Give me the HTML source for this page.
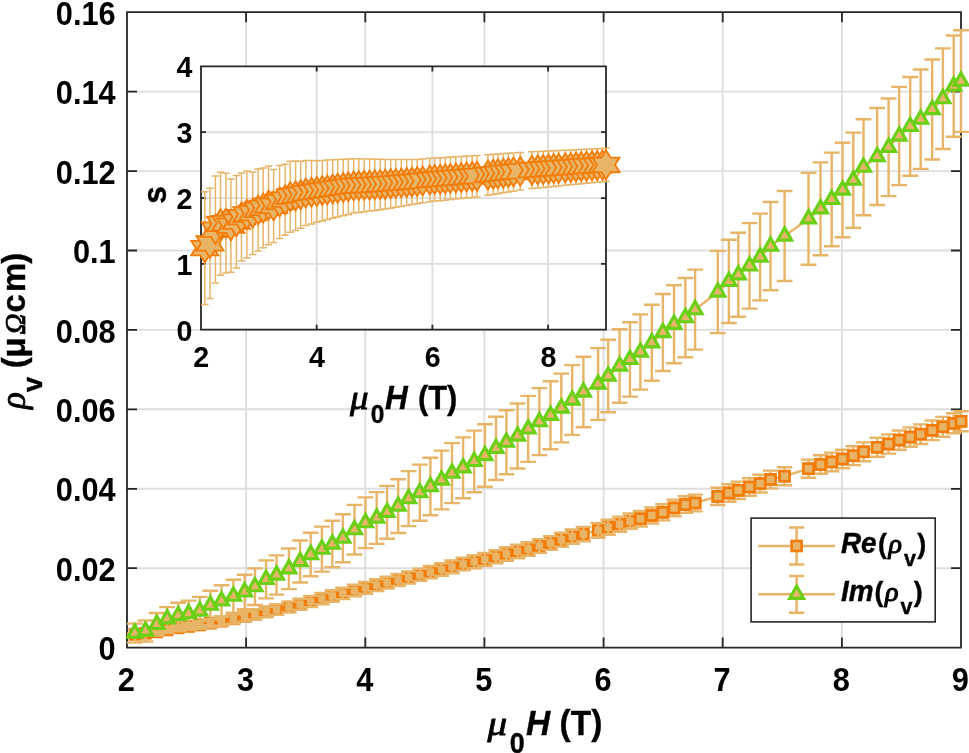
<!DOCTYPE html>
<html lang="en"><head><meta charset="utf-8"><title>Vortex resistivity vs field</title>
<style>html,body{margin:0;padding:0;background:#fff}svg{display:block}text{font-family:"Liberation Sans",Arial,Helvetica,sans-serif;font-weight:bold;fill:#000000}.tk{font-size:30px}.lb{font-size:33px}.lg{font-size:26.5px}.gk{font-family:"Liberation Serif","DejaVu Serif",serif;font-style:italic;font-weight:normal;stroke:#000;stroke-width:0.8px}.it{font-style:italic}</style></head><body>
<svg width="969" height="753" viewBox="0 0 969 753">
<rect width="969" height="753" fill="#fff"/>
<defs>
<rect id="sq" x="-5.00" y="-5.00" width="10.00" height="10.00" fill="#e8b467" stroke="#f37c08" stroke-width="2.6"/>
<path id="tr" d="M0,-8.20L7.00,4.10L-7.00,4.10Z" fill="#e8b467" stroke="#69d016" stroke-width="3.1" stroke-linejoin="miter"/>
<path id="st" d="M0.00,-14.50L-4.53,-7.25L-13.59,-7.25L-9.06,-0.00L-13.59,7.25L-4.53,7.25L-0.00,14.50L4.53,7.25L13.59,7.25L9.06,0.00L13.59,-7.25L4.53,-7.25Z" fill="#e8b467" stroke="#f37c08" stroke-width="1.8" stroke-linejoin="miter"/>
<clipPath id="cm"><rect x="127.0" y="12.2" width="834.0" height="635.4"/></clipPath>
</defs>
<path d="M246.1,12.2V647.6M365.3,12.2V647.6M484.4,12.2V647.6M603.6,12.2V647.6M722.7,12.2V647.6M841.9,12.2V647.6M127.0,568.2H961.0M127.0,488.8H961.0M127.0,409.3H961.0M127.0,329.9H961.0M127.0,250.5H961.0M127.0,171.1H961.0M127.0,91.6H961.0" stroke="#dedede" stroke-width="1.9" fill="none"/>
<path d="M127.0,12.2H961.0V647.6H127.0ZM127.0,647.6v-10M127.0,12.2v10M246.1,647.6v-10M246.1,12.2v10M365.3,647.6v-10M365.3,12.2v10M484.4,647.6v-10M484.4,12.2v10M603.6,647.6v-10M603.6,12.2v10M722.7,647.6v-10M722.7,12.2v10M841.9,647.6v-10M841.9,12.2v10M961.0,647.6v-10M961.0,12.2v10M127.0,647.6h10M961.0,647.6h-10M127.0,568.2h10M961.0,568.2h-10M127.0,488.8h10M961.0,488.8h-10M127.0,409.3h10M961.0,409.3h-10M127.0,329.9h10M961.0,329.9h-10M127.0,250.5h10M961.0,250.5h-10M127.0,171.1h10M961.0,171.1h-10M127.0,91.6h10M961.0,91.6h-10M127.0,12.2h10M961.0,12.2h-10" stroke="#262626" stroke-width="1.8" fill="none" stroke-linejoin="miter"/>
<g>
<path d="M134.9,634.5L145.5,633.3L156.7,632L167.1,630L178.2,627.9L188.6,626.5L199.8,625L210.4,623.2L221.5,621.3L233.4,618.9L244.6,616.6L255,614.3L266.1,611.9L276.5,609.7L288.9,607L300.1,604.2L310.7,601.5L321.9,598.6L332.3,596L342.9,593.4L354.5,590.5L365.5,587.9L376.7,585.2L387.1,582.7L398.2,580L408.6,577.5L419.8,574.8L430.4,572.2L441.5,569.5L452,566.8L463.1,564L474.2,561.7L484.9,559.5L496,556.7L506.4,554L517.6,551.4L528.2,549L539.4,546L550.5,543L561.3,539.8L572.2,536.6L583.4,534.1L598.1,530.4L608.2,527.2L619.6,524.2L630,521.2L640.4,518.8L651.8,515.5L662.9,512.3L674,508L685.4,504.6L695.1,503L717.8,496.4L728.9,493L738.3,490.3L749.5,487L760.1,483.6L770.5,479.5L784.6,476.2L808.5,468.7L820.5,464.5L831.7,461.9L842.5,459L853.3,455.7L863.5,451.8L877.2,447.3L888.6,444L899.2,440.1L910.2,437.1L920.7,434.2L932.2,430.3L942.9,426.8L953.7,423.3L961,421.3" stroke="#e8b467" stroke-width="2.4" fill="none" stroke-linejoin="round"/>
<use href="#sq" x="134.9" y="634.5"/><use href="#sq" x="145.5" y="633.3"/><use href="#sq" x="156.7" y="632"/><use href="#sq" x="167.1" y="630"/><use href="#sq" x="178.2" y="627.9"/><use href="#sq" x="188.6" y="626.5"/><use href="#sq" x="199.8" y="625"/><use href="#sq" x="210.4" y="623.2"/><use href="#sq" x="221.5" y="621.3"/><use href="#sq" x="233.4" y="618.9"/><use href="#sq" x="244.6" y="616.6"/><use href="#sq" x="255" y="614.3"/><use href="#sq" x="266.1" y="611.9"/><use href="#sq" x="276.5" y="609.7"/><use href="#sq" x="288.9" y="607"/><use href="#sq" x="300.1" y="604.2"/><use href="#sq" x="310.7" y="601.5"/><use href="#sq" x="321.9" y="598.6"/><use href="#sq" x="332.3" y="596"/><use href="#sq" x="342.9" y="593.4"/><use href="#sq" x="354.5" y="590.5"/><use href="#sq" x="365.5" y="587.9"/><use href="#sq" x="376.7" y="585.2"/><use href="#sq" x="387.1" y="582.7"/><use href="#sq" x="398.2" y="580"/><use href="#sq" x="408.6" y="577.5"/><use href="#sq" x="419.8" y="574.8"/><use href="#sq" x="430.4" y="572.2"/><use href="#sq" x="441.5" y="569.5"/><use href="#sq" x="452" y="566.8"/><use href="#sq" x="463.1" y="564"/><use href="#sq" x="474.2" y="561.7"/><use href="#sq" x="484.9" y="559.5"/><use href="#sq" x="496" y="556.7"/><use href="#sq" x="506.4" y="554"/><use href="#sq" x="517.6" y="551.4"/><use href="#sq" x="528.2" y="549"/><use href="#sq" x="539.4" y="546"/><use href="#sq" x="550.5" y="543"/><use href="#sq" x="561.3" y="539.8"/><use href="#sq" x="572.2" y="536.6"/><use href="#sq" x="583.4" y="534.1"/><use href="#sq" x="598.1" y="530.4"/><use href="#sq" x="608.2" y="527.2"/><use href="#sq" x="619.6" y="524.2"/><use href="#sq" x="630" y="521.2"/><use href="#sq" x="640.4" y="518.8"/><use href="#sq" x="651.8" y="515.5"/><use href="#sq" x="662.9" y="512.3"/><use href="#sq" x="674" y="508"/><use href="#sq" x="685.4" y="504.6"/><use href="#sq" x="695.1" y="503"/><use href="#sq" x="717.8" y="496.4"/><use href="#sq" x="728.9" y="493"/><use href="#sq" x="738.3" y="490.3"/><use href="#sq" x="749.5" y="487"/><use href="#sq" x="760.1" y="483.6"/><use href="#sq" x="770.5" y="479.5"/><use href="#sq" x="784.6" y="476.2"/><use href="#sq" x="808.5" y="468.7"/><use href="#sq" x="820.5" y="464.5"/><use href="#sq" x="831.7" y="461.9"/><use href="#sq" x="842.5" y="459"/><use href="#sq" x="853.3" y="455.7"/><use href="#sq" x="863.5" y="451.8"/><use href="#sq" x="877.2" y="447.3"/><use href="#sq" x="888.6" y="444"/><use href="#sq" x="899.2" y="440.1"/><use href="#sq" x="910.2" y="437.1"/><use href="#sq" x="920.7" y="434.2"/><use href="#sq" x="932.2" y="430.3"/><use href="#sq" x="942.9" y="426.8"/><use href="#sq" x="953.7" y="423.3"/><use href="#sq" x="961" y="421.3"/>
<path d="M134.9,633.2V635.8M127.2,633.2H142.6M127.2,635.8H142.6M145.5,631.5V635.1M137.8,631.5H153.2M137.8,635.1H153.2M156.7,629.6V634.4M149,629.6H164.4M149,634.4H164.4M167.1,627V633M159.4,627H174.8M159.4,633H174.8M178.2,624.6V631.2M170.5,624.6H185.9M170.5,631.2H185.9M188.6,622.9V630.1M180.9,622.9H196.3M180.9,630.1H196.3M199.8,621.1V628.9M192.1,621.1H207.5M192.1,628.9H207.5M210.4,619.1V627.3M202.7,619.1H218.1M202.7,627.3H218.1M221.5,616.9V625.7M213.8,616.9H229.2M213.8,625.7H229.2M233.4,614.2V623.6M225.7,614.2H241.1M225.7,623.6H241.1M244.6,611.6V621.6M236.9,611.6H252.3M236.9,621.6H252.3M255,609.2V619.4M247.3,609.2H262.7M247.3,619.4H262.7M266.1,606.7V617.1M258.4,606.7H273.8M258.4,617.1H273.8M276.5,604.4V614.9M268.8,604.4H284.2M268.8,614.9H284.2M288.9,601.6V612.4M281.2,601.6H296.6M281.2,612.4H296.6M300.1,598.7V609.7M292.4,598.7H307.8M292.4,609.7H307.8M310.7,595.9V607.1M303,595.9H318.4M303,607.1H318.4M321.9,593V604.3M314.2,593H329.6M314.2,604.3H329.6M332.3,590.3V601.7M324.6,590.3H340M324.6,601.7H340M342.9,587.7V599.1M335.2,587.7H350.6M335.2,599.1H350.6M354.5,584.7V596.3M346.8,584.7H362.2M346.8,596.3H362.2M365.5,582V593.7M357.8,582H373.2M357.8,593.7H373.2M376.7,579.3V591.1M369,579.3H384.4M369,591.1H384.4M387.1,576.7V588.6M379.4,576.7H394.8M379.4,588.6H394.8M398.2,574V586M390.5,574H405.9M390.5,586H405.9M408.6,571.4V583.6M400.9,571.4H416.3M400.9,583.6H416.3M419.8,568.7V580.9M412.1,568.7H427.5M412.1,580.9H427.5M430.4,566V578.4M422.7,566H438.1M422.7,578.4H438.1M441.5,563.2V575.8M433.8,563.2H449.2M433.8,575.8H449.2M452,560.5V573.2M444.3,560.5H459.7M444.3,573.2H459.7M463.1,557.6V570.4M455.4,557.6H470.8M455.4,570.4H470.8M474.2,555.2V568.2M466.5,555.2H481.9M466.5,568.2H481.9M484.9,553V566M477.2,553H492.6M477.2,566H492.6M496,550.1V563.3M488.3,550.1H503.7M488.3,563.3H503.7M506.4,547.3V560.7M498.7,547.3H514.1M498.7,560.7H514.1M517.6,544.7V558.2M509.9,544.7H525.3M509.9,558.2H525.3M528.2,542.2V555.8M520.5,542.2H535.9M520.5,555.8H535.9M539.4,539.1V552.9M531.7,539.1H547.1M531.7,552.9H547.1M550.5,536.1V549.9M542.8,536.1H558.2M542.8,549.9H558.2M561.3,532.8V546.8M553.6,532.8H569M553.6,546.8H569M572.2,529.5V543.7M564.5,529.5H579.9M564.5,543.7H579.9M583.4,526.9V541.3M575.7,526.9H591.1M575.7,541.3H591.1M598.1,523V537.8M590.4,523H605.8M590.4,537.8H605.8M608.2,519.7V534.7M600.5,519.7H615.9M600.5,534.7H615.9M619.6,516.6V531.8M611.9,516.6H627.3M611.9,531.8H627.3M630,513.5V528.9M622.3,513.5H637.7M622.3,528.9H637.7M640.4,511V526.6M632.7,511H648.1M632.7,526.6H648.1M651.8,507.5V523.5M644.1,507.5H659.5M644.1,523.5H659.5M662.9,504.2V520.4M655.2,504.2H670.6M655.2,520.4H670.6M674,499.8V516.2M666.3,499.8H681.7M666.3,516.2H681.7M685.4,496.3V512.9M677.7,496.3H693.1M677.7,512.9H693.1M695.1,494.6V511.4M687.4,494.6H702.8M687.4,511.4H702.8M717.8,487.8V505M710.1,487.8H725.5M710.1,505H725.5M728.9,484.3V501.7M721.2,484.3H736.6M721.2,501.7H736.6M738.3,481.6V499M730.6,481.6H746M730.6,499H746M749.5,478.2V495.8M741.8,478.2H757.2M741.8,495.8H757.2M760.1,474.7V492.5M752.4,474.7H767.8M752.4,492.5H767.8M770.5,470.6V488.4M762.8,470.6H778.2M762.8,488.4H778.2M784.6,467.2V485.2M776.9,467.2H792.3M776.9,485.2H792.3M808.5,459.6V477.8M800.8,459.6H816.2M800.8,477.8H816.2M820.5,455.3V473.7M812.8,455.3H828.2M812.8,473.7H828.2M831.7,452.6V471.2M824,452.6H839.4M824,471.2H839.4M842.5,449.7V468.3M834.8,449.7H850.2M834.8,468.3H850.2M853.3,446.3V465.1M845.6,446.3H861M845.6,465.1H861M863.5,442.4V461.2M855.8,442.4H871.2M855.8,461.2H871.2M877.2,437.8V456.8M869.5,437.8H884.9M869.5,456.8H884.9M888.6,434.4V453.6M880.9,434.4H896.3M880.9,453.6H896.3M899.2,430.5V449.7M891.5,430.5H906.9M891.5,449.7H906.9M910.2,427.4V446.8M902.5,427.4H917.9M902.5,446.8H917.9M920.7,424.4V444M913,424.4H928.4M913,444H928.4M932.2,420.5V440.1M924.5,420.5H939.9M924.5,440.1H939.9M942.9,416.9V436.7M935.2,416.9H950.6M935.2,436.7H950.6M953.7,413.3V433.3M946,413.3H961.4M946,433.3H961.4M961,411.3V431.3M953.3,411.3H968.7M953.3,431.3H968.7" stroke="#e8b467" stroke-width="2.4" fill="none"/>
<use href="#sq" x="640.4" y="518.8"/><use href="#sq" x="651.8" y="515.5"/><use href="#sq" x="662.9" y="512.3"/><use href="#sq" x="674" y="508"/><use href="#sq" x="685.4" y="504.6"/><use href="#sq" x="695.1" y="503"/><use href="#sq" x="717.8" y="496.4"/><use href="#sq" x="728.9" y="493"/><use href="#sq" x="738.3" y="490.3"/><use href="#sq" x="749.5" y="487"/><use href="#sq" x="760.1" y="483.6"/><use href="#sq" x="770.5" y="479.5"/><use href="#sq" x="784.6" y="476.2"/><use href="#sq" x="808.5" y="468.7"/><use href="#sq" x="820.5" y="464.5"/><use href="#sq" x="831.7" y="461.9"/><use href="#sq" x="842.5" y="459"/><use href="#sq" x="853.3" y="455.7"/><use href="#sq" x="863.5" y="451.8"/><use href="#sq" x="877.2" y="447.3"/><use href="#sq" x="888.6" y="444"/><use href="#sq" x="899.2" y="440.1"/><use href="#sq" x="910.2" y="437.1"/><use href="#sq" x="920.7" y="434.2"/><use href="#sq" x="932.2" y="430.3"/><use href="#sq" x="942.9" y="426.8"/><use href="#sq" x="953.7" y="423.3"/><use href="#sq" x="961" y="421.3"/>
</g>
<g>
<path d="M134.9,633.1L145.5,631L156.7,624.3L167.1,618.8L178.2,615.5L188.6,613.7L199.8,611L210.4,605.2L221.5,600.8L233.4,596.2L244.6,591.9L255,586.7L266.1,579.4L276.5,575L288.9,568.8L300.1,561.5L310.7,554.5L321.9,549.1L332.3,544L342.9,538.2L354.5,529.7L365.5,522.7L376.7,518L387.1,512.3L398.2,506.1L408.6,498.6L419.8,492.7L430.4,486.5L441.5,480L452,473.1L463.1,467.8L474.2,461.4L484.9,455.5L496,448.4L506.4,442.2L517.6,436L528.2,428.9L539.4,421.6L550.5,415.3L561.3,408L572.2,400L583.4,392L598.1,384L608.2,376L619.6,366L630,359.4L640.4,352L651.8,342.8L662.9,332.5L674,324.3L685.4,317.6L695.1,309.6L717.8,292L728.9,281.4L738.3,274.8L749.5,265.9L760.1,257L770.5,246.1L784.6,236L808.5,218.8L820.5,208.8L831.7,199.4L842.5,190L853.3,180.2L863.5,167.2L877.2,156.5L888.6,147.3L899.2,136L910.2,126.4L920.7,119.2L932.2,109.5L942.9,98.7L953.7,86.1L961,81.1" stroke="#e8b467" stroke-width="2.4" fill="none" stroke-linejoin="round"/>
<path d="M134.9,623.6V642.6M127,623.6H142.8M127,642.6H142.8M145.5,620.5V641.5M137.6,620.5H153.4M137.6,641.5H153.4M156.7,613V635.6M148.8,613H164.6M148.8,635.6H164.6M167.1,607.1V630.5M159.2,607.1H175M159.2,630.5H175M178.2,602.8V628.2M170.3,602.8H186.1M170.3,628.2H186.1M188.6,600.6V626.8M180.7,600.6H196.5M180.7,626.8H196.5M199.8,596.9V625.1M191.9,596.9H207.7M191.9,625.1H207.7M210.4,590.8V619.6M202.5,590.8H218.3M202.5,619.6H218.3M221.5,585.3V616.3M213.6,585.3H229.4M213.6,616.3H229.4M233.4,579.8V612.6M225.5,579.8H241.3M225.5,612.6H241.3M244.6,574.7V609.1M236.7,574.7H252.5M236.7,609.1H252.5M255,568.4V605M247.1,568.4H262.9M247.1,605H262.9M266.1,560.4V598.4M258.2,560.4H274M258.2,598.4H274M276.5,555.4V594.6M268.6,555.4H284.4M268.6,594.6H284.4M288.9,548.5V589.1M281,548.5H296.8M281,589.1H296.8M300.1,540.5V582.5M292.2,540.5H308M292.2,582.5H308M310.7,532.7V576.3M302.8,532.7H318.6M302.8,576.3H318.6M321.9,526.6V571.6M314,526.6H329.8M314,571.6H329.8M332.3,520.7V567.3M324.4,520.7H340.2M324.4,567.3H340.2M342.9,514.2V562.2M335,514.2H350.8M335,562.2H350.8M354.5,504.9V554.5M346.6,504.9H362.4M346.6,554.5H362.4M365.5,497.4V548.1M357.6,497.4H373.4M357.6,548.1H373.4M376.7,492.1V543.9M368.8,492.1H384.6M368.8,543.9H384.6M387.1,485.9V538.7M379.2,485.9H395M379.2,538.7H395M398.2,479.2V533M390.3,479.2H406.1M390.3,533H406.1M408.6,471.1V526.1M400.7,471.1H416.5M400.7,526.1H416.5M419.8,464.6V520.8M411.9,464.6H427.7M411.9,520.8H427.7M430.4,457.7V515.3M422.5,457.7H438.3M422.5,515.3H438.3M441.5,450.6V509.4M433.6,450.6H449.4M433.6,509.4H449.4M452,443.1V503.1M444.1,443.1H459.9M444.1,503.1H459.9M463.1,437.4V498.2M455.2,437.4H471M455.2,498.2H471M474.2,430.6V492.2M466.3,430.6H482.1M466.3,492.2H482.1M484.9,424.3V486.7M477,424.3H492.8M477,486.7H492.8M496,416.8V480M488.1,416.8H503.9M488.1,480H503.9M506.4,410.2V474.2M498.5,410.2H514.3M498.5,474.2H514.3M517.6,403.5V468.5M509.7,403.5H525.5M509.7,468.5H525.5M528.2,395.9V461.9M520.3,395.9H536.1M520.3,461.9H536.1M539.4,388.1V455.1M531.5,388.1H547.3M531.5,455.1H547.3M550.5,381.3V449.3M542.6,381.3H558.4M542.6,449.3H558.4M561.3,373.6V442.4M553.4,373.6H569.2M553.4,442.4H569.2M572.2,365.1V434.9M564.3,365.1H580.1M564.3,434.9H580.1M583.4,356.7V427.3M575.5,356.7H591.3M575.5,427.3H591.3M598.1,348.1V419.9M590.2,348.1H606M590.2,419.9H606M608.2,339.7V412.3M600.3,339.7H616.1M600.3,412.3H616.1M619.6,329.2V402.8M611.7,329.2H627.5M611.7,402.8H627.5M630,322.2V396.6M622.1,322.2H637.9M622.1,396.6H637.9M640.4,314.4V389.6M632.5,314.4H648.3M632.5,389.6H648.3M651.8,304.8V380.8M643.9,304.8H659.7M643.9,380.8H659.7M662.9,294V371M655,294H670.8M655,371H670.8M674,285.3V363.3M666.1,285.3H681.9M666.1,363.3H681.9M685.4,278V357.2M677.5,278H693.3M677.5,357.2H693.3M695.1,269.6V349.6M687.2,269.6H703M687.2,349.6H703M717.8,250.9V333.1M709.9,250.9H725.7M709.9,333.1H725.7M728.9,239.8V323M721,239.8H736.8M721,323H736.8M738.3,232.8V316.8M730.4,232.8H746.2M730.4,316.8H746.2M749.5,223.1V308.6M741.6,223.1H757.4M741.6,308.6H757.4M760.1,213.6V300.4M752.2,213.6H768M752.2,300.4H768M770.5,202V290.2M762.6,202H778.4M762.6,290.2H778.4M784.6,191V281M776.7,191H792.5M776.7,281H792.5M808.5,172.9V264.7M800.6,172.9H816.4M800.6,264.7H816.4M820.5,162.4V255.2M812.6,162.4H828.4M812.6,255.2H828.4M831.7,152.6V246.2M823.8,152.6H839.6M823.8,246.2H839.6M842.5,142.8V237.2M834.6,142.8H850.4M834.6,237.2H850.4M853.3,132.6V227.8M845.4,132.6H861.2M845.4,227.8H861.2M863.5,119.2V215.2M855.6,119.2H871.4M855.6,215.2H871.4M877.2,108V205M869.3,108H885.1M869.3,205H885.1M888.6,98.5V196.1M880.7,98.5H896.5M880.7,196.1H896.5M899.2,86.9V185.1M891.3,86.9H907.1M891.3,185.1H907.1M910.2,77V175.8M902.3,77H918.1M902.3,175.8H918.1M920.7,69.5V168.9M912.8,69.5H928.6M912.8,168.9H928.6M932.2,59.5V159.5M924.3,59.5H940.1M924.3,159.5H940.1M942.9,48.4V149M935,48.4H950.8M935,149H950.8M953.7,35.5V136.7M945.8,35.5H961.6M945.8,136.7H961.6M961,30.3V131.9M953.1,30.3H968.9M953.1,131.9H968.9" stroke="#e8b467" stroke-width="2.4" fill="none"/>
<use href="#tr" x="134.9" y="633.1"/><use href="#tr" x="145.5" y="631"/><use href="#tr" x="156.7" y="624.3"/><use href="#tr" x="167.1" y="618.8"/><use href="#tr" x="178.2" y="615.5"/><use href="#tr" x="188.6" y="613.7"/><use href="#tr" x="199.8" y="611"/><use href="#tr" x="210.4" y="605.2"/><use href="#tr" x="221.5" y="600.8"/><use href="#tr" x="233.4" y="596.2"/><use href="#tr" x="244.6" y="591.9"/><use href="#tr" x="255" y="586.7"/><use href="#tr" x="266.1" y="579.4"/><use href="#tr" x="276.5" y="575"/><use href="#tr" x="288.9" y="568.8"/><use href="#tr" x="300.1" y="561.5"/><use href="#tr" x="310.7" y="554.5"/><use href="#tr" x="321.9" y="549.1"/><use href="#tr" x="332.3" y="544"/><use href="#tr" x="342.9" y="538.2"/><use href="#tr" x="354.5" y="529.7"/><use href="#tr" x="365.5" y="522.7"/><use href="#tr" x="376.7" y="518"/><use href="#tr" x="387.1" y="512.3"/><use href="#tr" x="398.2" y="506.1"/><use href="#tr" x="408.6" y="498.6"/><use href="#tr" x="419.8" y="492.7"/><use href="#tr" x="430.4" y="486.5"/><use href="#tr" x="441.5" y="480"/><use href="#tr" x="452" y="473.1"/><use href="#tr" x="463.1" y="467.8"/><use href="#tr" x="474.2" y="461.4"/><use href="#tr" x="484.9" y="455.5"/><use href="#tr" x="496" y="448.4"/><use href="#tr" x="506.4" y="442.2"/><use href="#tr" x="517.6" y="436"/><use href="#tr" x="528.2" y="428.9"/><use href="#tr" x="539.4" y="421.6"/><use href="#tr" x="550.5" y="415.3"/><use href="#tr" x="561.3" y="408"/><use href="#tr" x="572.2" y="400"/><use href="#tr" x="583.4" y="392"/><use href="#tr" x="598.1" y="384"/><use href="#tr" x="608.2" y="376"/><use href="#tr" x="619.6" y="366"/><use href="#tr" x="630" y="359.4"/><use href="#tr" x="640.4" y="352"/><use href="#tr" x="651.8" y="342.8"/><use href="#tr" x="662.9" y="332.5"/><use href="#tr" x="674" y="324.3"/><use href="#tr" x="685.4" y="317.6"/><use href="#tr" x="695.1" y="309.6"/><use href="#tr" x="717.8" y="292"/><use href="#tr" x="728.9" y="281.4"/><use href="#tr" x="738.3" y="274.8"/><use href="#tr" x="749.5" y="265.9"/><use href="#tr" x="760.1" y="257"/><use href="#tr" x="770.5" y="246.1"/><use href="#tr" x="784.6" y="236"/><use href="#tr" x="808.5" y="218.8"/><use href="#tr" x="820.5" y="208.8"/><use href="#tr" x="831.7" y="199.4"/><use href="#tr" x="842.5" y="190"/><use href="#tr" x="853.3" y="180.2"/><use href="#tr" x="863.5" y="167.2"/><use href="#tr" x="877.2" y="156.5"/><use href="#tr" x="888.6" y="147.3"/><use href="#tr" x="899.2" y="136"/><use href="#tr" x="910.2" y="126.4"/><use href="#tr" x="920.7" y="119.2"/><use href="#tr" x="932.2" y="109.5"/><use href="#tr" x="942.9" y="98.7"/><use href="#tr" x="953.7" y="86.1"/><use href="#tr" x="961" y="81.1"/>
</g>
<text transform="translate(126.4,690.6) scale(1.000,1.078)" font-size="30.75" text-anchor="middle">2</text>
<text transform="translate(245.5,690.6) scale(1.000,1.078)" font-size="30.75" text-anchor="middle">3</text>
<text transform="translate(364.7,690.6) scale(1.000,1.078)" font-size="30.75" text-anchor="middle">4</text>
<text transform="translate(483.8,690.6) scale(1.000,1.078)" font-size="30.75" text-anchor="middle">5</text>
<text transform="translate(603.0,690.6) scale(1.000,1.078)" font-size="30.75" text-anchor="middle">6</text>
<text transform="translate(722.1,690.6) scale(1.000,1.078)" font-size="30.75" text-anchor="middle">7</text>
<text transform="translate(841.3,690.6) scale(1.000,1.078)" font-size="30.75" text-anchor="middle">8</text>
<text transform="translate(960.4,690.6) scale(1.000,1.078)" font-size="30.75" text-anchor="middle">9</text>
<text transform="translate(115.7,660.2) scale(1.000,1.078)" font-size="30.75" text-anchor="end">0</text>
<text transform="translate(115.7,580.8) scale(1.000,1.078)" font-size="30.75" text-anchor="end">0.02</text>
<text transform="translate(115.7,501.4) scale(1.000,1.078)" font-size="30.75" text-anchor="end">0.04</text>
<text transform="translate(115.7,421.9) scale(1.000,1.078)" font-size="30.75" text-anchor="end">0.06</text>
<text transform="translate(115.7,342.5) scale(1.000,1.078)" font-size="30.75" text-anchor="end">0.08</text>
<text transform="translate(115.7,263.1) scale(1.000,1.078)" font-size="30.75" text-anchor="end">0.1</text>
<text transform="translate(115.7,183.7) scale(1.000,1.078)" font-size="30.75" text-anchor="end">0.12</text>
<text transform="translate(115.7,104.2) scale(1.000,1.078)" font-size="30.75" text-anchor="end">0.14</text>
<text transform="translate(115.7,24.8) scale(1.000,1.078)" font-size="30.75" text-anchor="end">0.16</text>
<text class="gk" transform="translate(487.5,735.2) scale(1.150,1.000)" font-size="34">μ</text>
<text transform="translate(509.8,753.0) scale(1.000,1.078)" font-size="27" stroke="#000" stroke-width="0.35">0</text>
<text class="it" transform="translate(526.0,735.2) scale(1.000,1.040)" font-size="33.455999999999996" stroke="#000" stroke-width="0.35">H</text>
<text transform="translate(559.6,735.2) scale(1.000,1.040)" font-size="33.455999999999996" stroke="#000" stroke-width="0.35">(T)</text>
<text class="gk" transform="translate(25.0,409.0) rotate(-90)" font-size="35">ρ</text>
<text transform="translate(41.5,392.0) rotate(-90) scale(1.000,1.040)" font-size="27" stroke="#000" stroke-width="0.35">v</text>
<text transform="translate(25.0,368.3) rotate(-90) scale(1.000,1.040)" font-size="32.8" stroke="#000" stroke-width="0.35">(μ</text>
<text class="gk" transform="translate(25.0,334.5) rotate(-90)" font-size="29">Ω</text>
<text transform="translate(25.0,312.6) rotate(-90) scale(1.000,1.040)" font-size="32.8" stroke="#000" stroke-width="0.35">c</text>
<text transform="translate(25.0,292.1) rotate(-90) scale(1.000,1.040)" font-size="32.8" stroke="#000" stroke-width="0.35">m</text>
<text transform="translate(25.0,263.7) rotate(-90) scale(1.000,1.040)" font-size="32.8" stroke="#000" stroke-width="0.35">)</text>
<rect x="201.0" y="66.4" width="405.0" height="263.3" fill="#fff"/>
<path d="M316.7,66.4V329.7M432.4,66.4V329.7M548.1,66.4V329.7M201.0,263.9H606.0M201.0,198.1H606.0M201.0,132.2H606.0" stroke="#dedede" stroke-width="1.9" fill="none"/>
<path d="M201.0,66.4H606.0V329.7H201.0ZM201.0,329.7v-5M201.0,66.4v5M316.7,329.7v-5M316.7,66.4v5M432.4,329.7v-5M432.4,66.4v5M548.1,329.7v-5M548.1,66.4v5M201.0,329.7h5M606.0,329.7h-5M201.0,263.9h5M606.0,263.9h-5M201.0,198.1h5M606.0,198.1h-5M201.0,132.2h5M606.0,132.2h-5M201.0,66.4h5M606.0,66.4h-5" stroke="#262626" stroke-width="1.8" fill="none"/>
<g>
<path d="M204.8,191.7V304.5M201.1,191.7H208.5M201.1,304.5H208.5M210,188.2V298.6M206.3,188.2H213.7M206.3,298.6H213.7M215.4,176.1V283.1M211.7,176.1H219.1M211.7,283.1H219.1M220.5,172.3V275.2M216.8,172.3H224.2M216.8,275.2H224.2M225.9,173.3V272.9M222.2,173.3H229.6M222.2,272.9H229.6M230.9,179.1V272.3M227.2,179.1H234.6M227.2,272.3H234.6M236.4,175.4V268M232.7,175.4H240.1M232.7,268H240.1M241.5,173.1V261.1M237.8,173.1H245.2M237.8,261.1H245.2M246.9,171.1V257.9M243.2,171.1H250.6M243.2,257.9H250.6M252.7,172V254.4M249,172H256.4M249,254.4H256.4M258.1,168.9V250.9M254.4,168.9H261.8M254.4,250.9H261.8M263.2,168V247.8M259.5,168H266.9M259.5,247.8H266.9M268.5,165.9V244.7M264.8,165.9H272.2M264.8,244.7H272.2M273.6,169.4V242.5M269.9,169.4H277.3M269.9,242.5H277.3M279.6,165.5V238.5M275.9,165.5H283.3M275.9,238.5H283.3M285.1,164.2V235.2M281.4,164.2H288.8M281.4,235.2H288.8M290.2,161.2V232.2M286.5,161.2H293.9M286.5,232.2H293.9M295.6,161V230.4M291.9,161H299.3M291.9,230.4H299.3M300.7,161.3V228.3M297,161.3H304.4M297,228.3H304.4M305.8,160.6V225.6M302.1,160.6H309.5M302.1,225.6H309.5M311.5,160.6V223.9M307.8,160.6H315.2M307.8,223.9H315.2M316.8,160.7V222.2M313.1,160.7H320.5M313.1,222.2H320.5M322.3,160.4V220.9M318.6,160.4H326M318.6,220.9H326M327.3,160.1V219.6M323.6,160.1H331M323.6,219.6H331M332.7,159.8V218.3M329,159.8H336.4M329,218.3H336.4M337.7,159.5V217M334,159.5H341.4M334,217H341.4M343.2,159.2V215.7M339.5,159.2H346.9M339.5,215.7H346.9M348.3,159V214.4M344.6,159H352M344.6,214.4H352M353.7,158.7V213.1M350,158.7H357.4M350,213.1H357.4M358.8,158.8V212.4M355.1,158.8H362.5M355.1,212.4H362.5M364.2,158.9V211.7M360.5,158.9H367.9M360.5,211.7H367.9M369.6,159V211.1M365.9,159H373.3M365.9,211.1H373.3M374.8,159.2V210.4M371.1,159.2H378.5M371.1,210.4H378.5M380.2,159.3V209.7M376.5,159.3H383.9M376.5,209.7H383.9M385.2,159.4V209.1M381.5,159.4H388.9M381.5,209.1H388.9M390.7,159.4V208.2M387,159.4H394.4M387,208.2H394.4M395.8,159.4V207.3M392.1,159.4H399.5M392.1,207.3H399.5M401.3,159.5V206.4M397.6,159.5H405M397.6,206.4H405M406.7,159.5V205.5M403,159.5H410.4M403,205.5H410.4M411.9,159.5V204.6M408.2,159.5H415.6M408.2,204.6H415.6M417.2,159.5V203.7M413.5,159.5H420.9M413.5,203.7H420.9M422.6,159V202.8M418.9,159H426.3M418.9,202.8H426.3M429.8,158.3V201.7M426.1,158.3H433.5M426.1,201.7H433.5M434.7,157.9V201.1M431,157.9H438.4M431,201.1H438.4M440.2,157.7V200.7M436.5,157.7H443.9M436.5,200.7H443.9M445.3,157.4V200.2M441.6,157.4H449M441.6,200.2H449M450.3,157.1V199.6M446.6,157.1H454M446.6,199.6H454M455.8,156.7V199.1M452.1,156.7H459.5M452.1,199.1H459.5M461.2,156.4V198.5M457.5,156.4H464.9M457.5,198.5H464.9M466.6,156.1V198M462.9,156.1H470.3M462.9,198H470.3M472.2,155.7V197.4M468.5,155.7H475.9M468.5,197.4H475.9M476.9,155.4V196.9M473.2,155.4H480.6M473.2,196.9H480.6M487.9,154.7V195.2M484.2,154.7H491.6M484.2,195.2H491.6M493.3,154.3V194.4M489.6,154.3H497M489.6,194.4H497M497.9,154V193.7M494.2,154H501.6M494.2,193.7H501.6M503.3,153.6V192.8M499.6,153.6H507M499.6,192.8H507M508.4,153.3V192M504.7,153.3H512.1M504.7,192H512.1M513.5,152.9V191.2M509.8,152.9H517.2M509.8,191.2H517.2M520.3,152.5V190.1M516.6,152.5H524M516.6,190.1H524M531.9,151.8V188.6M528.2,151.8H535.6M528.2,188.6H535.6M537.8,151.5V188.1M534.1,151.5H541.5M534.1,188.1H541.5M543.2,151.3V187.5M539.5,151.3H546.9M539.5,187.5H546.9M548.5,151V187M544.8,151H552.2M544.8,187H552.2M553.7,150.8V186.5M550,150.8H557.4M550,186.5H557.4M558.7,150.5V186M555,150.5H562.4M555,186H562.4M565.3,150.2V185.3M561.6,150.2H569M561.6,185.3H569M570.8,150V184.8M567.1,150H574.5M567.1,184.8H574.5M576,149.7V184.3M572.3,149.7H579.7M572.3,184.3H579.7M581.3,149.5V183.8M577.6,149.5H585M577.6,183.8H585M586.4,149.2V183.2M582.7,149.2H590.1M582.7,183.2H590.1M592,149V182.7M588.3,149H595.7M588.3,182.7H595.7M597.2,148.7V182.2M593.5,148.7H600.9M593.5,182.2H600.9M602.5,148.5V181.7M598.8,148.5H606.2M598.8,181.7H606.2M606,148.3V181.3M602.3,148.3H609.7M602.3,181.3H609.7" stroke="#e8b467" stroke-width="1.5" fill="none"/>
<use href="#st" x="204.8" y="248.1"/><use href="#st" x="210" y="243.4"/><use href="#st" x="215.4" y="229.6"/><use href="#st" x="220.5" y="223.8"/><use href="#st" x="225.9" y="223.1"/><use href="#st" x="230.9" y="225.7"/><use href="#st" x="236.4" y="221.7"/><use href="#st" x="241.5" y="217.1"/><use href="#st" x="246.9" y="214.5"/><use href="#st" x="252.7" y="213.2"/><use href="#st" x="258.1" y="209.9"/><use href="#st" x="263.2" y="207.9"/><use href="#st" x="268.5" y="205.3"/><use href="#st" x="273.6" y="205.9"/><use href="#st" x="279.6" y="202"/><use href="#st" x="285.1" y="199.7"/><use href="#st" x="290.2" y="196.7"/><use href="#st" x="295.6" y="195.7"/><use href="#st" x="300.7" y="194.8"/><use href="#st" x="305.8" y="193.1"/><use href="#st" x="311.5" y="192.3"/><use href="#st" x="316.8" y="191.5"/><use href="#st" x="322.3" y="190.6"/><use href="#st" x="327.3" y="189.9"/><use href="#st" x="332.7" y="189.1"/><use href="#st" x="337.7" y="188.3"/><use href="#st" x="343.2" y="187.5"/><use href="#st" x="348.3" y="186.7"/><use href="#st" x="353.7" y="185.9"/><use href="#st" x="358.8" y="185.6"/><use href="#st" x="364.2" y="185.3"/><use href="#st" x="369.6" y="185.1"/><use href="#st" x="374.8" y="184.8"/><use href="#st" x="380.2" y="184.5"/><use href="#st" x="385.2" y="184.2"/><use href="#st" x="390.7" y="183.8"/><use href="#st" x="395.8" y="183.4"/><use href="#st" x="401.3" y="182.9"/><use href="#st" x="406.7" y="182.5"/><use href="#st" x="411.9" y="182"/><use href="#st" x="417.2" y="181.6"/><use href="#st" x="422.6" y="180.9"/><use href="#st" x="429.8" y="180"/><use href="#st" x="434.7" y="179.5"/><use href="#st" x="440.2" y="179.2"/><use href="#st" x="445.3" y="178.8"/><use href="#st" x="450.3" y="178.4"/><use href="#st" x="455.8" y="177.9"/><use href="#st" x="461.2" y="177.5"/><use href="#st" x="466.6" y="177"/><use href="#st" x="472.2" y="176.5"/><use href="#st" x="476.9" y="176.2"/><use href="#st" x="487.9" y="175"/><use href="#st" x="493.3" y="174.3"/><use href="#st" x="497.9" y="173.8"/><use href="#st" x="503.3" y="173.2"/><use href="#st" x="508.4" y="172.6"/><use href="#st" x="513.5" y="172"/><use href="#st" x="520.3" y="171.3"/><use href="#st" x="531.9" y="170.2"/><use href="#st" x="537.8" y="169.8"/><use href="#st" x="543.2" y="169.4"/><use href="#st" x="548.5" y="169"/><use href="#st" x="553.7" y="168.6"/><use href="#st" x="558.7" y="168.3"/><use href="#st" x="565.3" y="167.8"/><use href="#st" x="570.8" y="167.4"/><use href="#st" x="576" y="167"/><use href="#st" x="581.3" y="166.6"/><use href="#st" x="586.4" y="166.2"/><use href="#st" x="592" y="165.8"/><use href="#st" x="597.2" y="165.5"/><use href="#st" x="602.5" y="165.1"/><use href="#st" x="606" y="164.8"/>
</g>
<text transform="translate(201.3,367.4) scale(1.000,1.030)" font-size="28.6" text-anchor="middle">2</text>
<text transform="translate(317.0,367.4) scale(1.000,1.030)" font-size="28.6" text-anchor="middle">4</text>
<text transform="translate(432.7,367.4) scale(1.000,1.030)" font-size="28.6" text-anchor="middle">6</text>
<text transform="translate(548.4,367.4) scale(1.000,1.030)" font-size="28.6" text-anchor="middle">8</text>
<text transform="translate(192.3,340.7) scale(1.000,1.040)" font-size="28.6" text-anchor="end">0</text>
<text transform="translate(192.3,274.9) scale(1.000,1.040)" font-size="28.6" text-anchor="end">1</text>
<text transform="translate(192.3,209.1) scale(1.000,1.040)" font-size="28.6" text-anchor="end">2</text>
<text transform="translate(192.3,143.2) scale(1.000,1.040)" font-size="28.6" text-anchor="end">3</text>
<text transform="translate(192.3,77.4) scale(1.000,1.040)" font-size="28.6" text-anchor="end">4</text>
<text class="gk" transform="translate(350.0,408.8) scale(1.120,1.000)" font-size="33">μ</text>
<text transform="translate(370.7,423.3) scale(1.000,1.078)" font-size="24.5" stroke="#000" stroke-width="0.35">0</text>
<text class="it" transform="translate(384.9,408.8) scale(1.000,1.071)" font-size="31.487999999999996" stroke="#000" stroke-width="0.35">H</text>
<text transform="translate(418.0,408.8) scale(1.000,1.102)" font-size="30.831999999999997" stroke="#000" stroke-width="0.35">(T)</text>
<text transform="translate(166.3,195.0) rotate(-90) scale(1.000,1.040)" font-size="31.487999999999996" text-anchor="middle" stroke="#000" stroke-width="0.35">s</text>
<rect x="751.1" y="518.1" width="184.1" height="103.8" fill="#fff" stroke="#262626" stroke-width="1.6"/>
<path d="M758.3,546.0H835M796.6,527.6V564.4M789,527.6H804.3M789,564.4H804.3" stroke="#e8b467" stroke-width="2.5" fill="none"/>
<use href="#sq" x="796.6" y="546.0"/>
<path d="M758.3,594.3H835M796.6,575.9V612.7M789,575.9H804.3M789,612.7H804.3" stroke="#e8b467" stroke-width="2.5" fill="none"/>
<use href="#tr" x="796.6" y="594.3"/>
<text class="it" transform="translate(841.0,552.8) scale(1.000,1.050)" font-size="27.872000000000003" stroke="#000" stroke-width="0.4">Re</text>
<text transform="translate(878.0,552.8) scale(1.000,1.040)" font-size="26.8" stroke="#000" stroke-width="0.4">(</text>
<text class="gk" transform="translate(888.5,552.8)" font-size="28" style="stroke-width:1.1px">ρ</text>
<text transform="translate(904.0,566.0) scale(1.000,1.040)" font-size="21.5" stroke="#000" stroke-width="0.4">v</text>
<text transform="translate(917.3,552.8) scale(1.000,1.040)" font-size="26.8" stroke="#000" stroke-width="0.4">)</text>
<text class="it" transform="translate(841.0,600.6) scale(1.000,1.050)" font-size="27.872000000000003" stroke="#000" stroke-width="0.4">Im</text>
<text transform="translate(874.5,600.6) scale(1.000,1.040)" font-size="26.8" stroke="#000" stroke-width="0.4">(</text>
<text class="gk" transform="translate(885.0,600.6)" font-size="28" style="stroke-width:1.1px">ρ</text>
<text transform="translate(900.5,613.8) scale(1.000,1.040)" font-size="21.5" stroke="#000" stroke-width="0.4">v</text>
<text transform="translate(913.8,600.6) scale(1.000,1.040)" font-size="26.8" stroke="#000" stroke-width="0.4">)</text>
</svg></body></html>
